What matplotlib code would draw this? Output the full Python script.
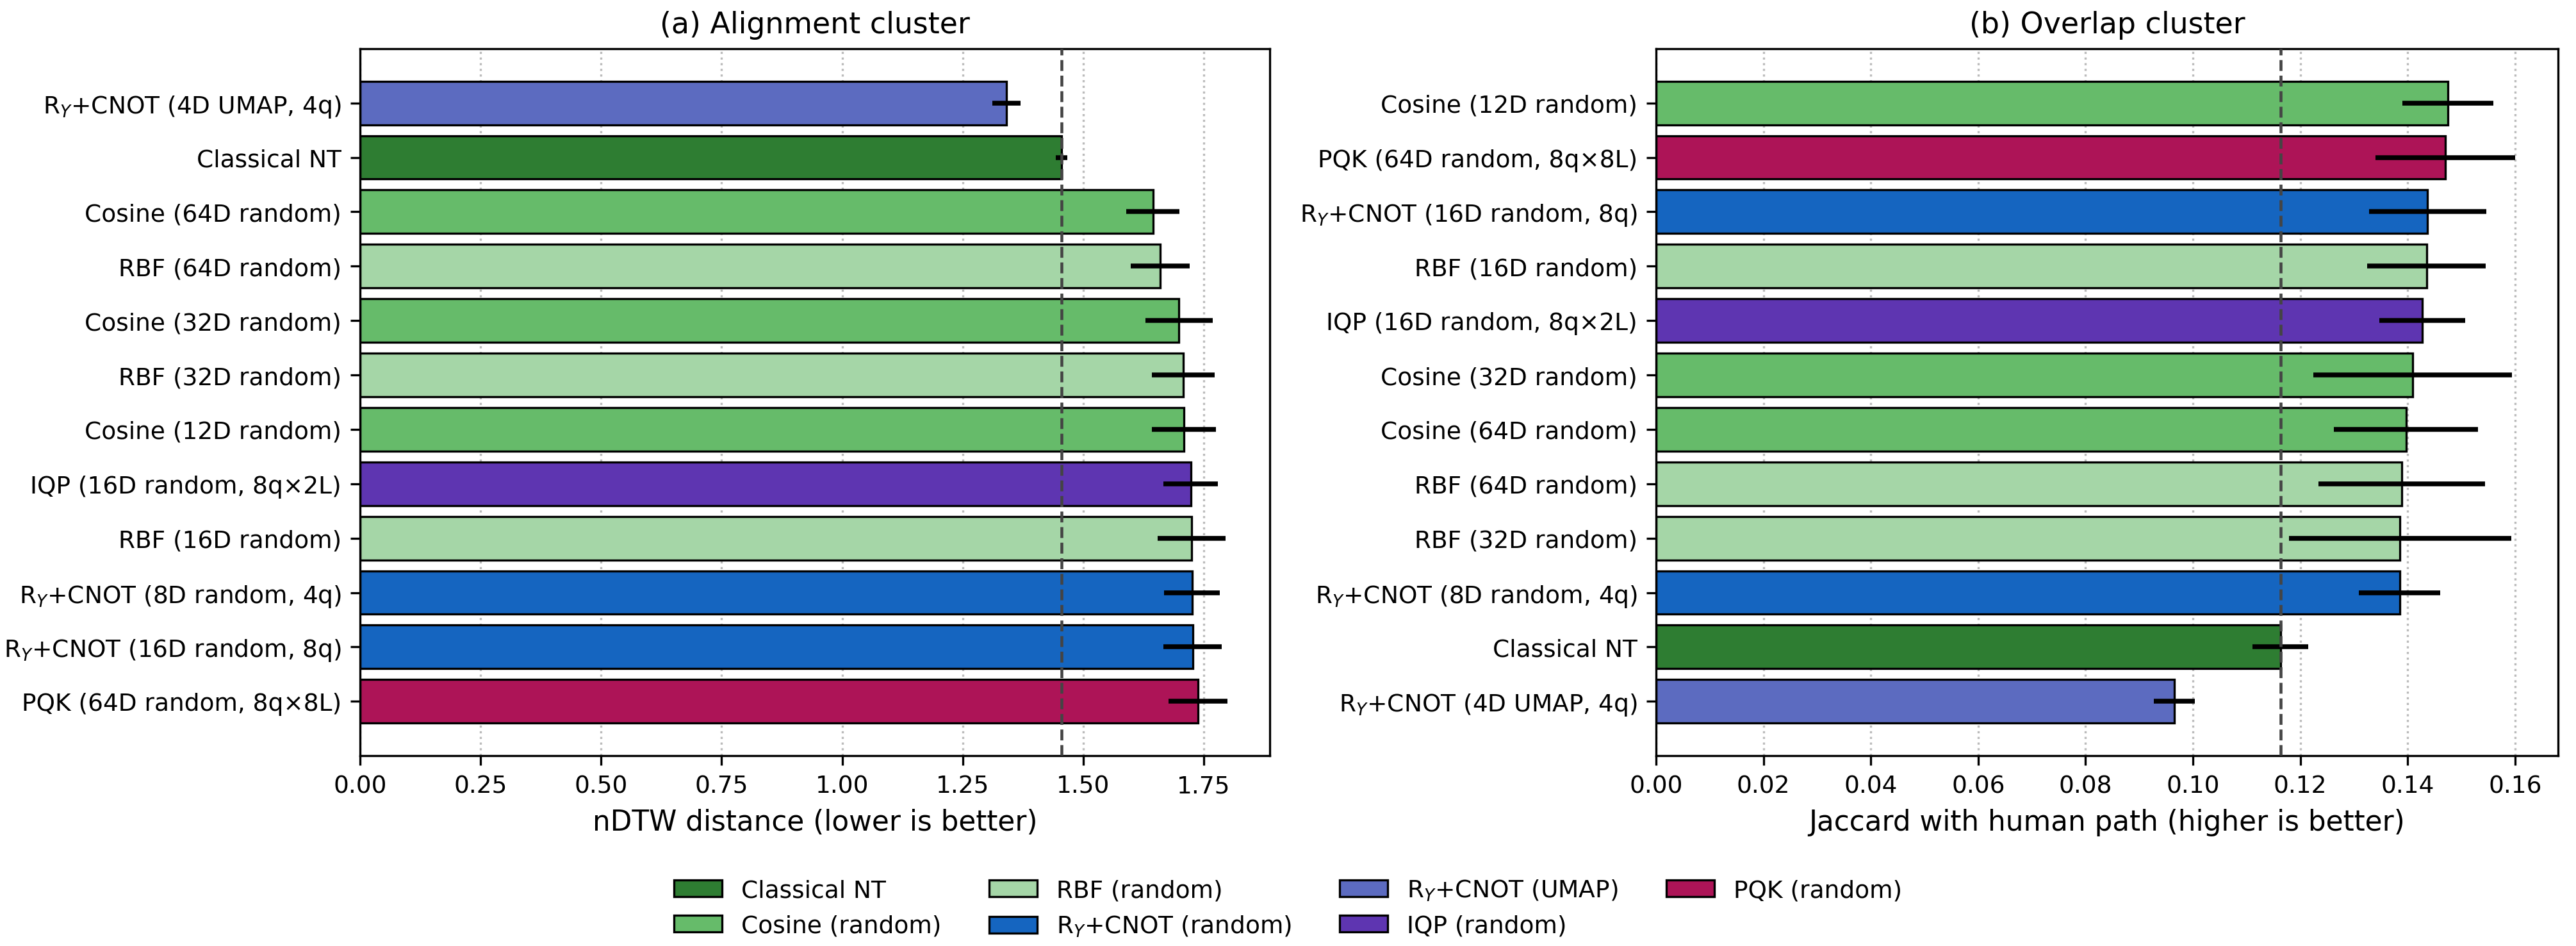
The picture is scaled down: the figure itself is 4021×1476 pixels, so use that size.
import numpy as np
import matplotlib
matplotlib.use("Agg")
import matplotlib.pyplot as plt
from matplotlib.patches import Patch

# colours per method family
family_colors = {
    "Classical NT": "#2e7d32",
    "Cosine (random)": "#66bb6a",
    "RBF (random)": "#a5d6a7",
    r"R$_Y$+CNOT (random)": "#1565c0",
    r"R$_Y$+CNOT (UMAP)": "#5c6bc0",
    "IQP (random)": "#5e35b1",
    "PQK (random)": "#ad1457",
}

# (a) alignment cluster, nDTW (lower is better)
a_labels = [r"R$_Y$+CNOT (4D UMAP, 4q)", "Classical NT", "Cosine (64D random)",
            "RBF (64D random)", "Cosine (32D random)", "RBF (32D random)",
            "Cosine (12D random)", "IQP (16D random, 8q×2L)", "RBF (16D random)",
            r"R$_Y$+CNOT (8D random, 4q)", r"R$_Y$+CNOT (16D random, 8q)",
            "PQK (64D random, 8q×8L)"]
a_family = [r"R$_Y$+CNOT (UMAP)", "Classical NT", "Cosine (random)", "RBF (random)",
            "Cosine (random)", "RBF (random)", "Cosine (random)", "IQP (random)",
            "RBF (random)", r"R$_Y$+CNOT (random)", r"R$_Y$+CNOT (random)", "PQK (random)"]
a_vals = [1.341, 1.455, 1.645, 1.660, 1.699, 1.708, 1.709, 1.723, 1.725, 1.726, 1.727, 1.738]
a_err = [0.029, 0.012, 0.055, 0.061, 0.070, 0.065, 0.067, 0.057, 0.070, 0.058, 0.060, 0.061]

# (b) overlap cluster, Jaccard (higher is better)
b_labels = ["Cosine (12D random)", "PQK (64D random, 8q×8L)", r"R$_Y$+CNOT (16D random, 8q)",
            "RBF (16D random)", "IQP (16D random, 8q×2L)", "Cosine (32D random)",
            "Cosine (64D random)", "RBF (64D random)", "RBF (32D random)",
            r"R$_Y$+CNOT (8D random, 4q)", "Classical NT", r"R$_Y$+CNOT (4D UMAP, 4q)"]
b_family = ["Cosine (random)", "PQK (random)", r"R$_Y$+CNOT (random)", "RBF (random)",
            "IQP (random)", "Cosine (random)", "Cosine (random)", "RBF (random)",
            "RBF (random)", r"R$_Y$+CNOT (random)", "Classical NT", r"R$_Y$+CNOT (UMAP)"]
b_vals = [0.1475, 0.1470, 0.1437, 0.1435, 0.1427, 0.1409, 0.1397, 0.1389, 0.1386, 0.1385, 0.1163, 0.0965]
b_err = [0.0085, 0.0130, 0.0109, 0.0110, 0.0080, 0.0185, 0.0134, 0.0155, 0.0207, 0.0076, 0.0052, 0.0038]

fig, axes = plt.subplots(1, 2, figsize=(4021 / 300, 1477 / 300), dpi=300)

panels = [
    (axes[0], a_labels, a_family, a_vals, a_err, "(a) Alignment cluster",
     "nDTW distance (lower is better)"),
    (axes[1], b_labels, b_family, b_vals, b_err, "(b) Overlap cluster",
     "Jaccard with human path (higher is better)"),
]

for ax, labels, fam, vals, err, title, xlabel in panels:
    y = np.arange(len(labels))
    ax.barh(y, vals, xerr=err, height=0.8,
            color=[family_colors[f] for f in fam], edgecolor="black", linewidth=0.8,
            error_kw=dict(ecolor="black", elinewidth=1.8, capsize=0), zorder=2)
    nt = vals[labels.index("Classical NT")]
    ax.axvline(nt, color="#444444", linestyle="--", linewidth=1.1, zorder=3)
    ax.set_yticks(y)
    ax.set_yticklabels(labels, fontsize=9)
    ax.set_ylim(len(labels), -1)
    ax.tick_params(axis="x", labelsize=9)
    ax.grid(axis="x", linestyle=":", color="#bbbbbb", linewidth=0.8, zorder=0)
    ax.set_axisbelow(True)
    ax.set_title(title, fontsize=11)
    ax.set_xlabel(xlabel, fontsize=10.5)

axes[0].set_xlim(0, 1.887)
axes[1].set_xlim(0, 0.168)

axes[0].set_position([0.1398, 0.201, 0.4929 - 0.1398, 0.948 - 0.201])
axes[1].set_position([0.6429, 0.201, 0.993 - 0.6429, 0.948 - 0.201])

handles = [Patch(facecolor=c, edgecolor="black", linewidth=0.8, label=k)
           for k, c in family_colors.items()]
fig.legend(handles=handles, loc="lower center", ncol=4, frameon=False,
           fontsize=9, bbox_to_anchor=(0.5, -0.015))

fig.savefig("out.png", dpi=300)
